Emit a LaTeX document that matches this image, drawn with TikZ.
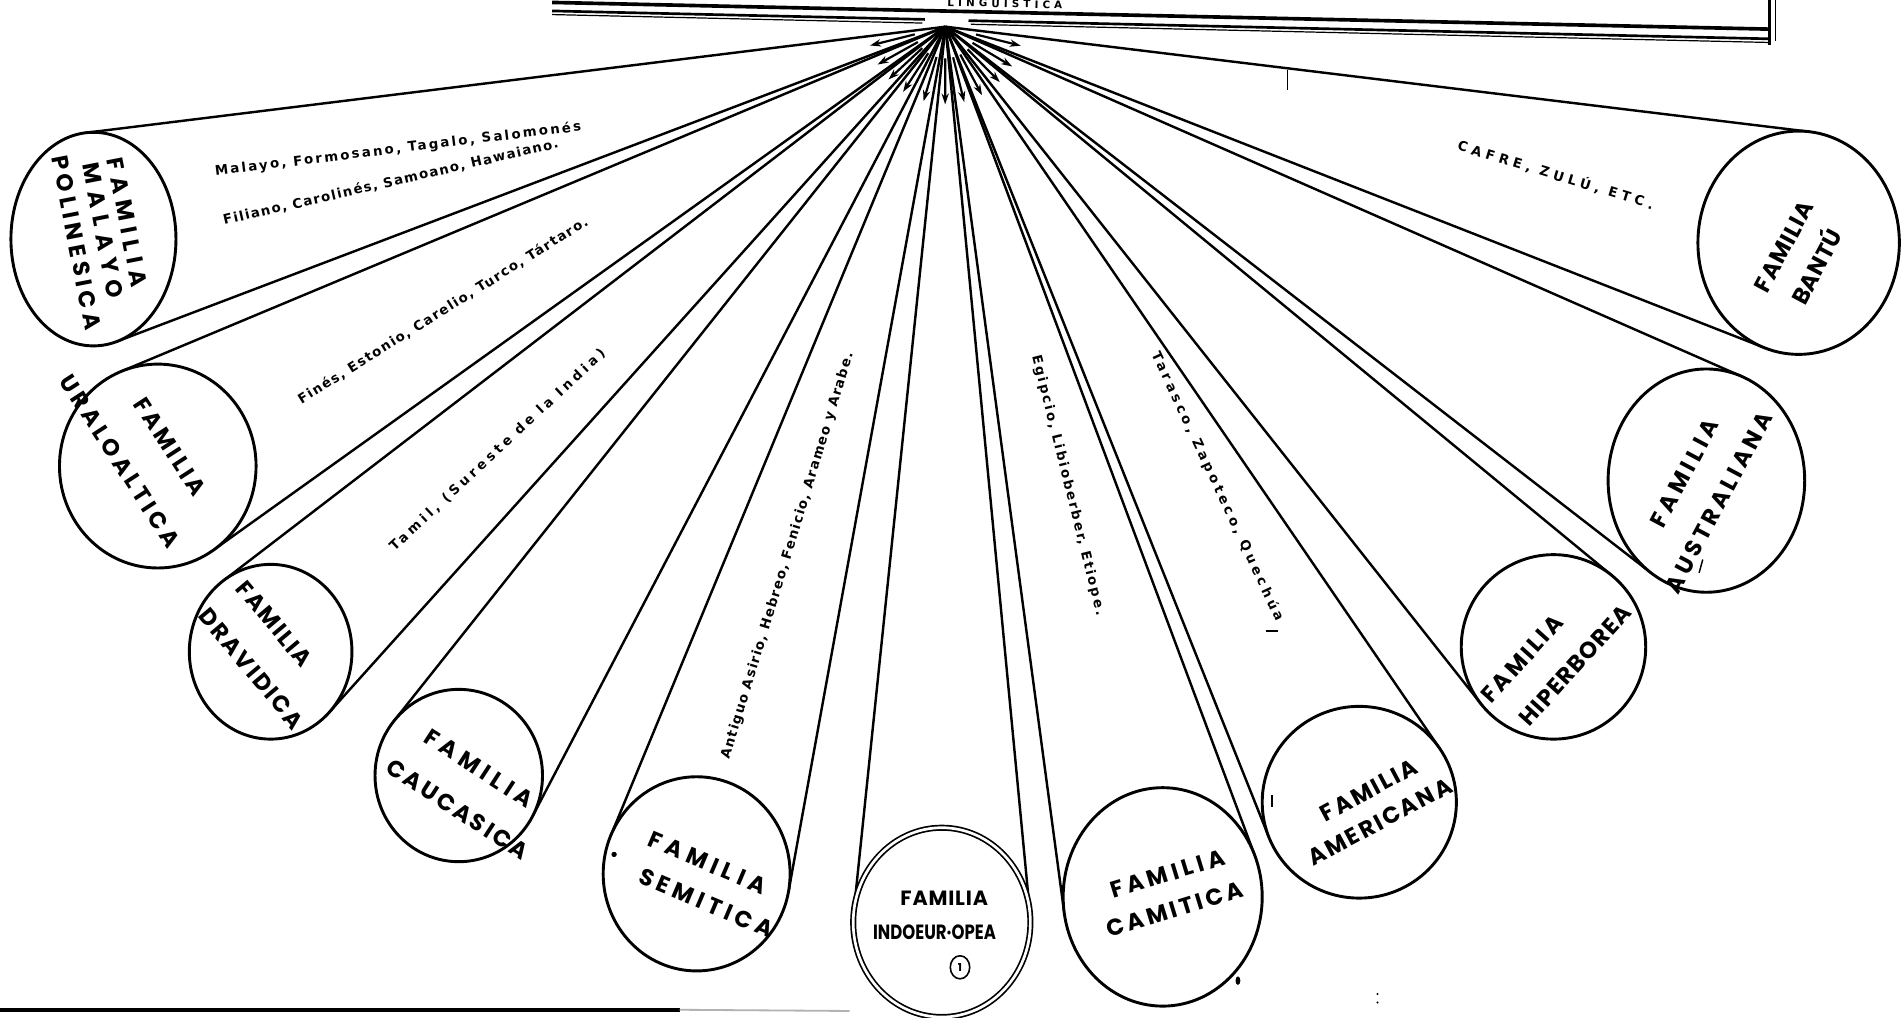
\documentclass[tikz,border=0pt]{standalone}
\usepackage{graphicx}
\usepackage{fontspec}
\setmainfont{TeX Gyre Heros}
\newfontfamily\labfont{Poppins}
\newfontfamily\handfont{DejaVu Sans}
\usetikzlibrary{shapes.geometric,arrows.meta}
\newcommand\labf[2]{\labfont\bfseries\fontsize{#1}{#1}\selectfont\addfontfeature{LetterSpace=#2}}
\newcommand\handf[1]{\handfont\bfseries\fontsize{11}{12}\selectfont\addfontfeature{LetterSpace=#1}}
\tikzset{
  ray/.style={line width=2pt},
  rayarrow/.style={line width=1.8pt,-{Stealth[length=9pt,width=6pt]}},
  famcirc/.style={shape=ellipse,draw,fill=white,line width=2.4pt,inner sep=0pt,outer sep=0pt},
  lab/.style={inner sep=0pt,anchor=center},
  hand/.style={inner sep=0pt,anchor=center},
  speck/.style={line width=1.2pt}
}
\newcommand\famcone[6]{%
  \pgfmathsetmacro\fpx{(779-#3)/#5}%
  \pgfmathsetmacro\fpy{(22-#4)/#6}%
  \pgfmathsetmacro\fth{atan2(\fpy,\fpx)}%
  \pgfmathsetmacro\fal{acos(1/sqrt(\fpx*\fpx+\fpy*\fpy))}%
  \pgfmathsetmacro\fax{#3+#5*cos(\fth+\fal)}%
  \pgfmathsetmacro\fay{#4+#6*sin(\fth+\fal)}%
  \pgfmathsetmacro\fbx{#3+#5*cos(\fth-\fal)}%
  \pgfmathsetmacro\fby{#4+#6*sin(\fth-\fal)}%
  \pgfmathsetmacro\fdir{atan2(#4-22,#3-779)}%
  \pgfmathsetmacro\fsx{779+26*cos(\fdir)}%
  \pgfmathsetmacro\fsy{22+26*sin(\fdir)}%
  \pgfmathsetmacro\fex{779+64*cos(\fdir)}%
  \pgfmathsetmacro\fey{22+64*sin(\fdir)}%
  \coordinate (#2-a) at (\fax,\fay);%
  \coordinate (#2-b) at (\fbx,\fby);%
  \coordinate (#2-s) at (\fsx,\fsy);%
  \coordinate (#2-e) at (\fex,\fey);%
  \draw[ray] (apex) -- (#2-a);%
  \draw[ray] (apex) -- (#2-b);%
  \draw[rayarrow] (#2-s) -- (#2-e);%
  \node[famcirc,#1,minimum width=#5*2pt,minimum height=#6*2pt] (#2) at (#3,#4) {};%
}
\begin{document}
\begin{tikzpicture}[x=1pt,y=-1pt]
\useasboundingbox (0,0) rectangle (1568,838);
\clip (0,0) rectangle (1568,838);
\fill[white] (0,0) rectangle (1568,838);
\coordinate (apex) at (779,22);
% top frame
\coordinate (b1) at (455,2); \coordinate (b2) at (1458,24);
\coordinate (c1) at (455,9); \coordinate (c2) at (762,16);
\coordinate (c3) at (798,17); \coordinate (c4) at (1458,32);
\coordinate (d1) at (455,12); \coordinate (d2) at (760,19);
\coordinate (d3) at (800,20); \coordinate (d4) at (1458,35);
\coordinate (r1) at (1458,0); \coordinate (r2) at (1458,37);
\coordinate (r3) at (1463,0); \coordinate (r4) at (1463,34);
\draw[line width=3pt] (b1) -- (b2);
\draw[line width=2.2pt] (c1) -- (c2);
\draw[line width=2.2pt] (c3) -- (c4);
\draw[line width=1pt] (d1) -- (d2);
\draw[line width=1pt] (d3) -- (d4);
\draw[line width=1.8pt] (r1) -- (r2);
\draw[line width=1pt] (r3) -- (r4);
\node[lab,rotate=-1.3,font={\handfont\bfseries\fontsize{8.5}{9}\selectfont\addfontfeature{LetterSpace=40}}] (title) at (828,3) {LINGUISTICA};
% bottom rule
\coordinate (g1) at (0,832); \coordinate (g2) at (560,832); \coordinate (g3) at (700,833);
\draw[line width=3pt] (g1) -- (g2);
\draw[line width=1.5pt,gray!60] (g2) -- (g3);
% families
\famcone{}{malayo}{77}{197}{68}{88}
\famcone{}{ural}{130}{384}{81}{84}
\famcone{}{drav}{223}{537}{67}{72}
\famcone{}{cauc}{378}{639}{69}{71}
\famcone{}{semi}{574}{720}{77}{80}
\famcone{double,double distance=2.2pt,line width=1.4pt}{indo}{776}{760}{73}{78}
\famcone{}{cami}{958}{739}{82}{90}
\famcone{}{amer}{1120}{661}{80}{79}
\famcone{}{hiper}{1280}{533}{76}{76}
\famcone{}{austr}{1406}{396}{81}{92}
\famcone{}{bantu}{1482}{200}{83}{92}
% stray marks
\coordinate (k1) at (1061,58); \coordinate (k2) at (1061,74);
\draw[speck] (k1) -- (k2);
\coordinate (k3) at (1400,472); \coordinate (k4) at (1403,461);
\draw[speck] (k3) -- (k4);
\coordinate (k5) at (1048,655); \coordinate (k6) at (1048,665);
\draw[speck] (k5) -- (k6);
\coordinate (k7) at (1043,520); \coordinate (k8) at (1053,520);
\draw[speck] (k7) -- (k8);
\fill (1020,808) ellipse (2pt and 3.5pt);
\fill (506,704) ellipse (2.2pt and 2.2pt);
\fill (1135,819) circle (0.9pt);
\fill (1135,826) circle (0.9pt);
% circle labels
\node[lab,rotate=-79,font={\labf{19}{28}}] (l1a) at (105,183) {FAMILIA};
\node[lab,rotate=-79,font={\labf{19}{33}}] (l1b) at (85,190) {MALAYO};
\node[lab,rotate=-79,font={\labf{19}{20}}] (l1c) at (63,200) {POLINESICA};
\node[lab,rotate=-57,font={\labf{19}{14}}] (l2a) at (140,368) {FAMILIA};
\node[lab,rotate=-57,font={\labf{19}{17}}] (l2b) at (99,380) {URALOALTICA};
\node[lab,rotate=-50,font={\labf{19}{8}}] (l3a) at (226,514) {FAMILIA};
\node[lab,rotate=-50,font={\labf{19}{10}}] (l3b) at (207,551) {DRAVIDICA};
\node[lab,rotate=-33,font={\labf{19}{23}}] (l4a) at (395,633) {FAMILIA};
\node[lab,rotate=-33,font={\labf{19}{12}}] (l4b) at (377,667) {CAUCASICA};
\node[lab,rotate=-23,font={\labf{19}{24}}] (l5a) at (583,711) {FAMILIA};
\node[lab,rotate=-23,font={\labf{19}{21}}] (l5b) at (582,744) {SEMITICA};
\node[lab,font={\labf{17}{4}}] (l6a) at (778,740) {FAMILIA};
\node[lab,font={\labf{17}{0}}] (l6b) at (770,768) {\scalebox{0.8}[1]{INDOEUR·OPEA}};
\node[shape=ellipse,draw,line width=1.3pt,minimum width=16pt,minimum height=19pt,inner sep=0pt,font={\labfont\bfseries\fontsize{9}{9}\selectfont}] (l6c) at (791,797) {1};
\node[lab,rotate=17,font={\labf{19}{19}}] (l7a) at (962,720) {FAMILIA};
\node[lab,rotate=17,font={\labf{19}{15}}] (l7b) at (968,749) {CAMITICA};
\node[lab,rotate=28,font={\labf{19}{10}}] (l8a) at (1128,651) {FAMILIA};
\node[lab,rotate=28,font={\labf{19}{10}}] (l8b) at (1137,677) {AMERICANA};
\node[lab,rotate=48,font={\labf{19}{12}}] (l9a) at (1254,543) {FAMILIA};
\node[lab,rotate=48,font={\labf{19}{5}}] (l9b) at (1298,548) {HIPERBOREA};
\node[lab,rotate=62,font={\labf{19}{19}}] (l10a) at (1388,390) {FAMILIA};
\node[lab,rotate=62,font={\labf{19}{17}}] (l10b) at (1416,414) {AUSTRALIANA};
\node[lab,rotate=62,font={\labf{19}{5}}] (l11a) at (1470,203) {FAMILIA};
\node[lab,rotate=62,font={\labf{19}{2}}] (l11b) at (1495,219) {BANTÚ};
% language lists
\node[hand,rotate=7,font={\handf{17}}] (t1) at (328,123) {Malayo, Formosano, Tagalo, Salomonés};
\node[hand,rotate=13,font={\handf{10}}] (t2) at (322,150) {Filiano, Carolinés, Samoano, Hawaiano.};
\node[hand,rotate=32,font={\handf{11}}] (t3) at (365,256) {Finés, Estonio, Carelio, Turco, Tártaro.};
\node[hand,rotate=43,font={\handf{28}}] (t4) at (410,371) {Tamil, (Sureste de la India)};
\node[hand,rotate=73,font={\handf{10}}] (t5) at (649,458) {Antiguo Asirio, Hebreo, Fenicio, Arameo y Arabe.};
\node[hand,rotate=-76,font={\handf{16}}] (t6) at (880,400) {Egipcio, Libioberber, Etiope.};
\node[hand,rotate=-65,font={\handf{27}}] (t7) at (1003,401) {Tarasco, Zapoteco, Quechúa};
\node[hand,rotate=-17,font={\handf{34}}] (t8) at (1282,144) {CAFRE, ZULÚ, ETC.};
\end{tikzpicture}
\end{document}
